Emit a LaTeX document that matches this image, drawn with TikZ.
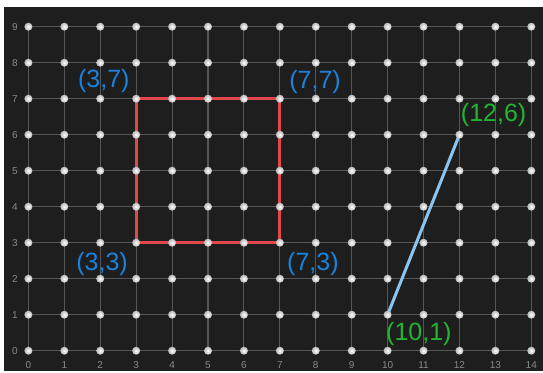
\documentclass[tikz,border=0pt]{standalone}
\usepackage{fontspec}
\setmainfont{Liberation Sans}
\definecolor{boardbg}{HTML}{1E1E1E}
\definecolor{gridgray}{HTML}{565656}
\definecolor{axisgray}{HTML}{8A8A8A}
\definecolor{bandred}{HTML}{E2474C}
\definecolor{bandblue}{HTML}{8CC4F0}
\definecolor{labblue}{HTML}{1A82DC}
\definecolor{labgreen}{HTML}{22B532}
\tikzset{
  gridline/.style={draw=gridgray,line width=1.1pt},
  redband/.style={draw=bandred,line width=3pt,line join=miter},
  blueband/.style={draw=bandblue,line width=3pt,line cap=round},
  peg/.style={circle,minimum size=8pt,inner sep=0pt,shading=radial,inner color=white,outer color=gray!55},
  axislabel/.style={text=axisgray,font=\fontsize{10}{11}\selectfont,inner sep=0pt},
  bluelab/.style={text=labblue,font=\fontsize{25}{30}\selectfont,inner sep=0pt},
  greenlab/.style={text=labgreen,font=\fontsize{25}{30}\selectfont,inner sep=0pt}
}
\begin{document}
\begin{tikzpicture}[x=35.92pt,y=36pt]
\useasboundingbox (-0.791,-0.592) rectangle (14.326,9.742);
\fill[white] (-0.791,-0.592) rectangle (14.326,9.742);
\fill[boardbg] (-0.679,-0.564) rectangle (14.326,9.547);
\foreach \i in {0,...,14}{\foreach \j in {0,...,9}{\coordinate (c-\i-\j) at (\i,\j);}}
\foreach \i in {0,...,14}{\draw[gridline] (c-\i-0) -- (c-\i-9);}
\foreach \j in {0,...,9}{\draw[gridline] (c-0-\j) -- (c-14-\j);}
\draw[redband] (c-3-3) -- (c-7-3) -- (c-7-7) -- (c-3-7) -- cycle;
\draw[blueband] (c-10-1) -- (c-12-6);
\foreach \i in {0,...,14}{\foreach \j in {0,...,9}{\node[peg] (p-\i-\j) at (c-\i-\j) {};}}
\foreach \i in {0,...,14}{\node[axislabel] (xl-\i) at (\i,-0.40) {\i};}
\foreach \j in {0,...,9}{\node[axislabel] (yl-\j) at (-0.373,\j) {\j};}
\node[bluelab] (l37) at (2.10,7.49) {(3,7)};
\node[bluelab] (l77) at (7.98,7.47) {(7,7)};
\node[bluelab] (l33) at (2.05,2.41) {(3,3)};
\node[bluelab] (l73) at (7.92,2.40) {(7,3)};
\node[greenlab] (l101) at (10.87,0.46) {(10,1)};
\node[greenlab] (l126) at (12.95,6.55) {(12,6)};
\end{tikzpicture}
\end{document}
